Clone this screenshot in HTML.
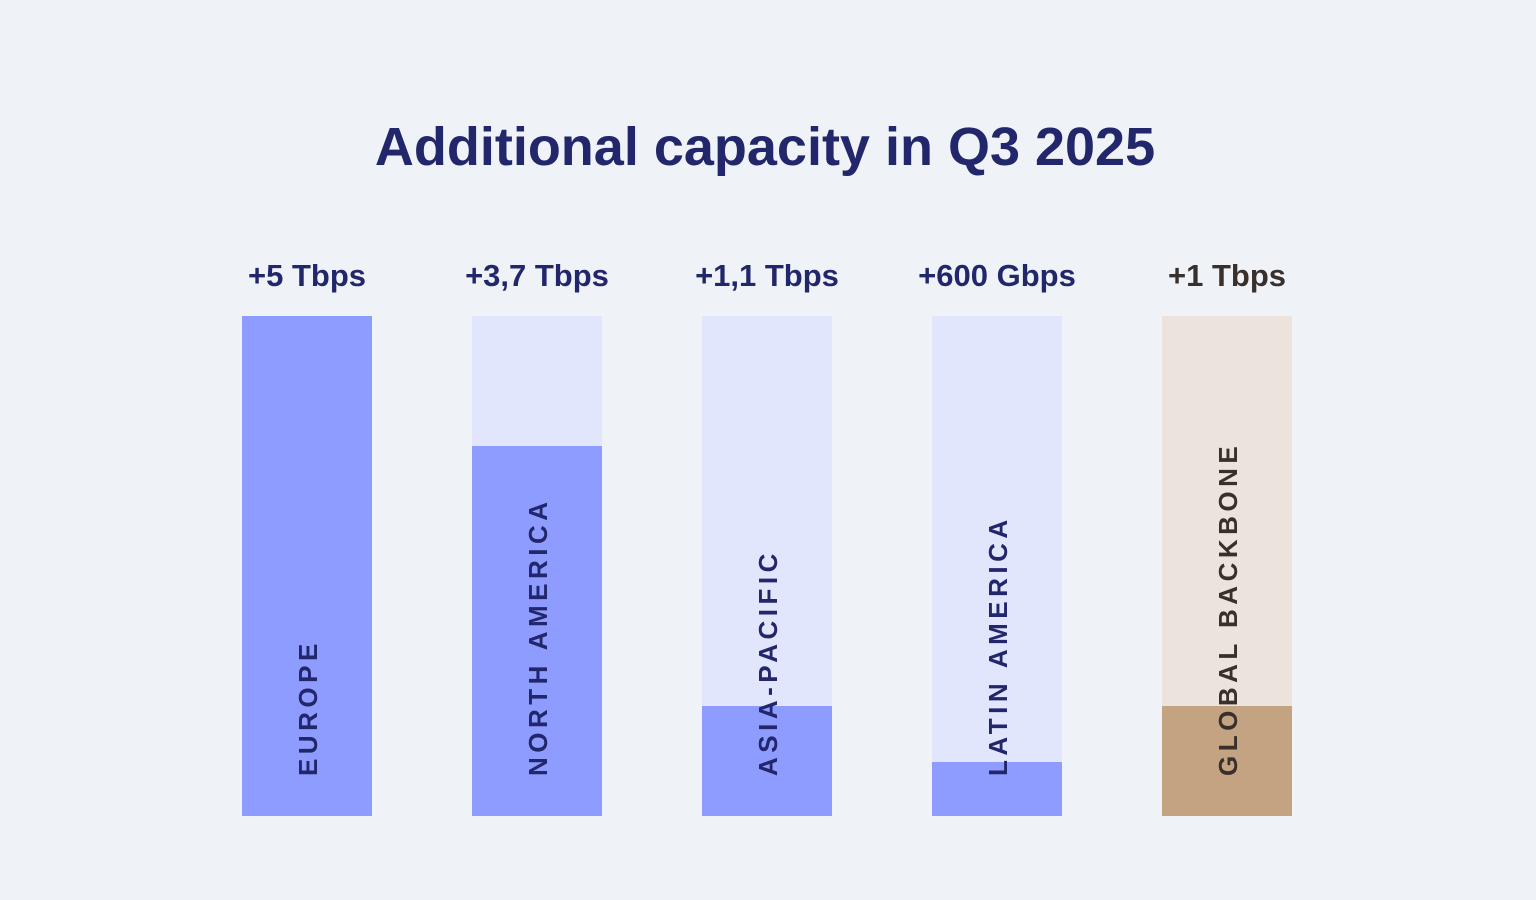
<!DOCTYPE html>
<html><head><meta charset="utf-8">
<style>
html,body{margin:0;padding:0;width:1536px;height:900px;background:#eff3f7;overflow:hidden;font-family:"Liberation Sans",sans-serif}
#title{position:absolute;left:-3px;width:1536px;top:116px;text-align:center;font-size:54px;font-weight:bold;color:#22266b;letter-spacing:0px}
svg{position:absolute;left:0;top:0}
</style></head><body>
<div id="title">Additional capacity in Q3 2025</div>
<svg id="chart" width="1536" height="900"></svg>
<script>
const categories=["EUROPE","NORTH AMERICA","ASIA-PACIFIC","LATIN AMERICA","GLOBAL BACKBONE"];
const values=[5,3.7,1.1,0.54,1.1];
const valueLabels=["+5 Tbps","+3,7 Tbps","+1,1 Tbps","+600 Gbps","+1 Tbps"];
const maxValue=5;
const svgEl=document.getElementById('chart');
const NS='http://www.w3.org/2000/svg';
const x0=242,step=230,bw=130,yTop=316,yBottom=816;
function xScale(i){return x0+i*step;}
function yScale(v){return yBottom-(v/maxValue)*(yBottom-yTop);}
function mk(t,a){const e=document.createElementNS(NS,t);for(const k in a)e.setAttribute(k,a[k]);svgEl.appendChild(e);return e;}
categories.forEach((c,i)=>{
  const g=i===4;
  const x=xScale(i);
  const tr=mk('rect',{x:x,y:yTop,width:bw,height:yBottom-yTop,fill:g?'#ece4dc':'#e1e6fd'});
  
  
  const y=yScale(values[i]);
  const b=mk('rect',{x:x,y:y,width:bw,height:yBottom-y,fill:g?'#c4a382':'#8f9cff'});
  
  
  const col=g?'#3a302b':'#22266b';
  const vl=mk('text',{x:x+bw/2,y:286,'text-anchor':'middle','font-size':31,'font-weight':'bold',fill:col});
  vl.textContent=valueLabels[i];
  
  
  const cx=x+bw/2+10;
  const cl=mk('text',{x:cx,y:776,transform:'rotate(-90 '+cx+' 776)','font-size':26,'font-weight':'bold',fill:col,'letter-spacing':'4.5'});
  cl.textContent=c;
  
  
});
</script>
</body></html>
